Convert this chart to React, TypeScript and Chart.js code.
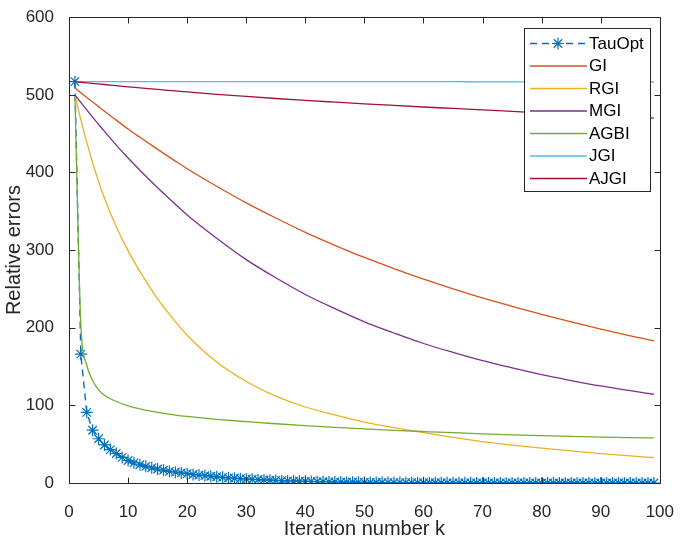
import React, { useEffect, useRef } from 'react';
import { Chart, registerables } from 'chart.js';

Chart.register(...registerables);

// ---------- data ----------
const seriesNames = ['TauOpt', 'GI', 'RGI', 'MGI', 'AGBI', 'JGI', 'AJGI'];

const tauK = [
  1, 2, 3, 4, 5, 6, 7, 8, 9, 10, 11, 12, 13, 14, 15, 16, 17, 18, 19, 20,
  21, 22, 23, 24, 25, 26, 27, 28, 29, 30, 31, 32, 33, 34, 35, 36, 37, 38, 39, 40,
  41, 42, 43, 44, 45, 46, 47, 48, 49, 50, 51, 52, 53, 54, 55, 56, 57, 58, 59, 60,
  61, 62, 63, 64, 65, 66, 67, 68, 69, 70, 71, 72, 73, 74, 75, 76, 77, 78, 79, 80,
  81, 82, 83, 84, 85, 86, 87, 88, 89, 90, 91, 92, 93, 94, 95, 96, 97, 98, 99,
];
const tauOpt = [
  517, 166, 91, 68, 57, 49, 43, 38, 33, 29, 26, 23.5, 21.5, 19.5, 18, 16.5, 15, 14, 13, 12,
  11, 10.2, 9.4, 8.7, 8, 7.3, 6.7, 6.1, 5.6, 5.1, 4.7, 4.3, 3.9, 3.6, 3.3, 3.0, 2.7, 2.5, 2.3, 2.1,
  1.9, 1.7, 1.6, 1.4, 1.3, 1.2, 1.1, 1.0, 0.9, 0.8, 0.75, 0.7, 0.64, 0.58, 0.53, 0.49, 0.45, 0.41, 0.38, 0.35,
  0.32, 0.29, 0.27, 0.25, 0.23, 0.21, 0.19, 0.18, 0.16, 0.15, 0.14, 0.13, 0.12, 0.11, 0.1, 0.09, 0.08, 0.08, 0.07, 0.07,
  0.06, 0.06, 0.05, 0.05, 0.04, 0.04, 0.04, 0.03, 0.03, 0.03, 0.03, 0.02, 0.02, 0.02, 0.02, 0.02, 0.01, 0.01, 0.01,
];

const lineK = [1, 2, 3, 4, 5, 6, 8, 10, 12, 15, 18, 20, 25, 30, 35, 40, 45, 50, 55, 60, 65, 70, 75, 80, 85, 90, 95, 99];
const gi = [509, 502.8, 496.7, 490.7, 484.8, 478.9, 467.4, 456, 445.3, 429.7, 414.6, 404.8, 382.2, 360.8, 341.3, 322.9, 306.2, 290.5, 276.2, 262.6, 250.2, 238.4, 227.6, 217.2, 207.4, 198.1, 189.6, 183];
const rgi = [500, 468, 439, 412.5, 388.5, 367, 330, 299, 272.5, 237.1, 207.8, 190.3, 155.8, 130.8, 112, 97.9, 87.7, 78.5, 71.4, 64.95, 58.9, 53.4, 48.9, 44.9, 41.3, 37.9, 34.9, 32.7];
const mgi = [500, 490.2, 480.6, 471.2, 462, 452.9, 435.3, 418.6, 402.8, 380.3, 359.1, 345.3, 315.3, 287.7, 264.3, 242.8, 224.5, 207.6, 193.2, 179.7, 168.2, 157.5, 148.3, 139.5, 132, 125, 118.9, 114.3];
const agbi = [500, 205, 152, 132, 120, 113, 105, 99.5, 95.5, 91, 87.5, 85.7, 82, 79, 76.3, 73.9, 71.7, 69.7, 67.9, 66.3, 64.8, 63.4, 62.1, 61, 60, 59.2, 58.5, 58];
const jgi = [517, 517, 517, 517, 517, 517, 517, 517, 517, 517, 517, 517, 517, 517, 517, 517, 517, 517, 517, 516.9, 516.9, 516.8, 516.8, 516.7, 516.7, 516.6, 516.6, 516.5];
const ajgi = [517, 516.2, 515.5, 514.7, 514, 513.3, 511.8, 510.3, 509, 506.9, 505, 503.7, 500.7, 497.9, 495.3, 492.85, 490.6, 488.4, 486.35, 484.35, 482.45, 480.55, 478.7, 476.85, 475.05, 473.25, 471.5, 470.1];

const xTicks = [0, 10, 20, 30, 40, 50, 60, 70, 80, 90, 100];
const yTicks = [0, 100, 200, 300, 400, 500, 600];

const xTitle = 'Iteration number k';
const yTitle = 'Relative errors';

// ---------- style ----------
const FONT = '"Liberation Sans", Arial, Helvetica, sans-serif';
const AXIS = '#262626';
const COLORS = ['#0072BD', '#D95319', '#EDB120', '#7E2F8E', '#77AC30', '#4DBEEE', '#A2142F'];

function pts(xs: number[], ys: number[]) {
  return xs.map((x, i) => ({ x, y: ys[i] }));
}

function drawStar(ctx: CanvasRenderingContext2D, x: number, y: number, r: number) {
  ctx.beginPath();
  for (let a = 0; a < 4; a++) {
    const ang = (a * Math.PI) / 4;
    const dx = Math.cos(ang) * r;
    const dy = Math.sin(ang) * r;
    ctx.moveTo(x - dx, y - dy);
    ctx.lineTo(x + dx, y + dy);
  }
  ctx.stroke();
}

export default function App() {
  const ref = useRef<HTMLCanvasElement>(null);

  useEffect(() => {
    const canvas = ref.current!;

    const framePlugin = {
      id: 'matlabFrame',
      afterDatasetsDraw(chart: any) {
        const { ctx, chartArea: a, scales } = chart;
        ctx.save();
        ctx.strokeStyle = AXIS;
        ctx.lineWidth = 1;
        ctx.setLineDash([]);
        const L = Math.round(a.left) + 0.5;
        const R = Math.round(a.right) + 0.5;
        const T = Math.round(a.top) + 0.5;
        const B = Math.round(a.bottom) + 0.5;
        ctx.beginPath();
        ctx.moveTo(L, T);
        ctx.lineTo(R, T);
        ctx.lineTo(R, B);
        ctx.lineTo(L, B);
        ctx.closePath();
        ctx.stroke();
        const len = 6;
        ctx.beginPath();
        scales.x.ticks.forEach((t: any) => {
          const px = Math.round(scales.x.getPixelForValue(t.value)) + 0.5;
          ctx.moveTo(px, B);
          ctx.lineTo(px, B - len);
          ctx.moveTo(px, T);
          ctx.lineTo(px, T + len);
        });
        scales.y.ticks.forEach((t: any) => {
          const py = Math.round(scales.y.getPixelForValue(t.value)) + 0.5;
          ctx.moveTo(L, py);
          ctx.lineTo(L + len, py);
          ctx.moveTo(R, py);
          ctx.lineTo(R - len, py);
        });
        ctx.stroke();

        // legend box (MATLAB style, inside top-right)
        const bx = 524.5, by = 28.5, bw = 126, bh = 163;
        ctx.fillStyle = '#ffffff';
        ctx.fillRect(bx, by, bw, bh);
        ctx.strokeStyle = AXIS;
        ctx.lineWidth = 1;
        ctx.strokeRect(bx, by, bw, bh);
        ctx.font = `17px ${FONT}`;
        ctx.textBaseline = 'middle';
        ctx.textAlign = 'left';
        chart.data.datasets.forEach((ds: any, i: number) => {
          const y = 43.5 + i * 22.5;
          ctx.strokeStyle = ds.borderColor;
          ctx.lineWidth = 1.3;
          ctx.setLineDash(ds.borderDash || []);
          ctx.beginPath();
          ctx.moveTo(530, y);
          ctx.lineTo(587, y);
          ctx.stroke();
          ctx.setLineDash([]);
          if (ds.pointStyle === 'star') {
            ctx.lineWidth = 1.2;
            drawStar(ctx, 558, y, 6);
          }
          ctx.fillStyle = '#000';
          ctx.fillText(ds.label, 589, y + 0.5);
        });
        ctx.restore();
      },
    };

    const lineSets = [gi, rgi, mgi, agbi, jgi, ajgi].map((vals, i) => ({
      label: seriesNames[i + 1],
      data: pts(lineK, vals),
      borderColor: COLORS[i + 1],
      backgroundColor: COLORS[i + 1],
      borderWidth: 1.3,
      pointRadius: 0,
      cubicInterpolationMode: 'monotone' as const,
      fill: false,
      order: 6 - i,
    }));

    const chart = new Chart(canvas, {
      type: 'line',
      data: {
        datasets: [
          {
            label: seriesNames[0],
            data: pts(tauK, tauOpt),
            borderColor: COLORS[0],
            backgroundColor: COLORS[0],
            borderWidth: 1.4,
            borderDash: [7, 5],
            pointStyle: 'star',
            pointRadius: 6,
            pointBorderWidth: 1.2,
            pointBorderColor: COLORS[0],
            tension: 0,
            fill: false,
            order: 7,
          } as any,
          ...lineSets,
        ],
      },
      options: {
        animation: false,
        responsive: false,
        devicePixelRatio: 1,
        layout: { padding: { left: 0, top: 14, right: 22, bottom: 0 }, autoPadding: false } as any,
        plugins: { legend: { display: false }, tooltip: { enabled: false } },
        scales: {
          x: {
            type: 'linear',
            min: 0,
            max: 100,
            afterBuildTicks: (s: any) => {
              s.ticks = xTicks.map((v) => ({ value: v }));
            },
            afterFit: (s: any) => {
              s.height = 61;
            },
            grid: { display: false },
            border: { display: false },
            ticks: {
              font: { family: FONT, size: 17 },
              color: AXIS,
              padding: 11,
              maxRotation: 0,
              autoSkip: false,
            },
            title: {
              display: true,
              text: xTitle,
              font: { family: FONT, size: 20 },
              color: AXIS,
              padding: { top: 0, bottom: 3 },
            },
          },
          y: {
            type: 'linear',
            min: 0,
            max: 600,
            afterBuildTicks: (s: any) => {
              s.ticks = yTicks.map((v) => ({ value: v }));
            },
            afterFit: (s: any) => {
              s.width = 69;
            },
            grid: { display: false },
            border: { display: false },
            ticks: {
              font: { family: FONT, size: 17 },
              color: AXIS,
              padding: 7,
              autoSkip: false,
            },
            title: {
              display: true,
              text: yTitle,
              font: { family: FONT, size: 20 },
              color: AXIS,
              padding: { top: 2, bottom: 0 },
            },
          },
        },
      },
      plugins: [framePlugin],
    });

    return () => chart.destroy();
  }, []);

  return (
    <div style={{ position: 'absolute', left: 0, top: 0, width: 685, height: 544, background: '#ffffff' }}>
      <canvas ref={ref} width={685} height={544} style={{ display: 'block' }} />
    </div>
  );
}
